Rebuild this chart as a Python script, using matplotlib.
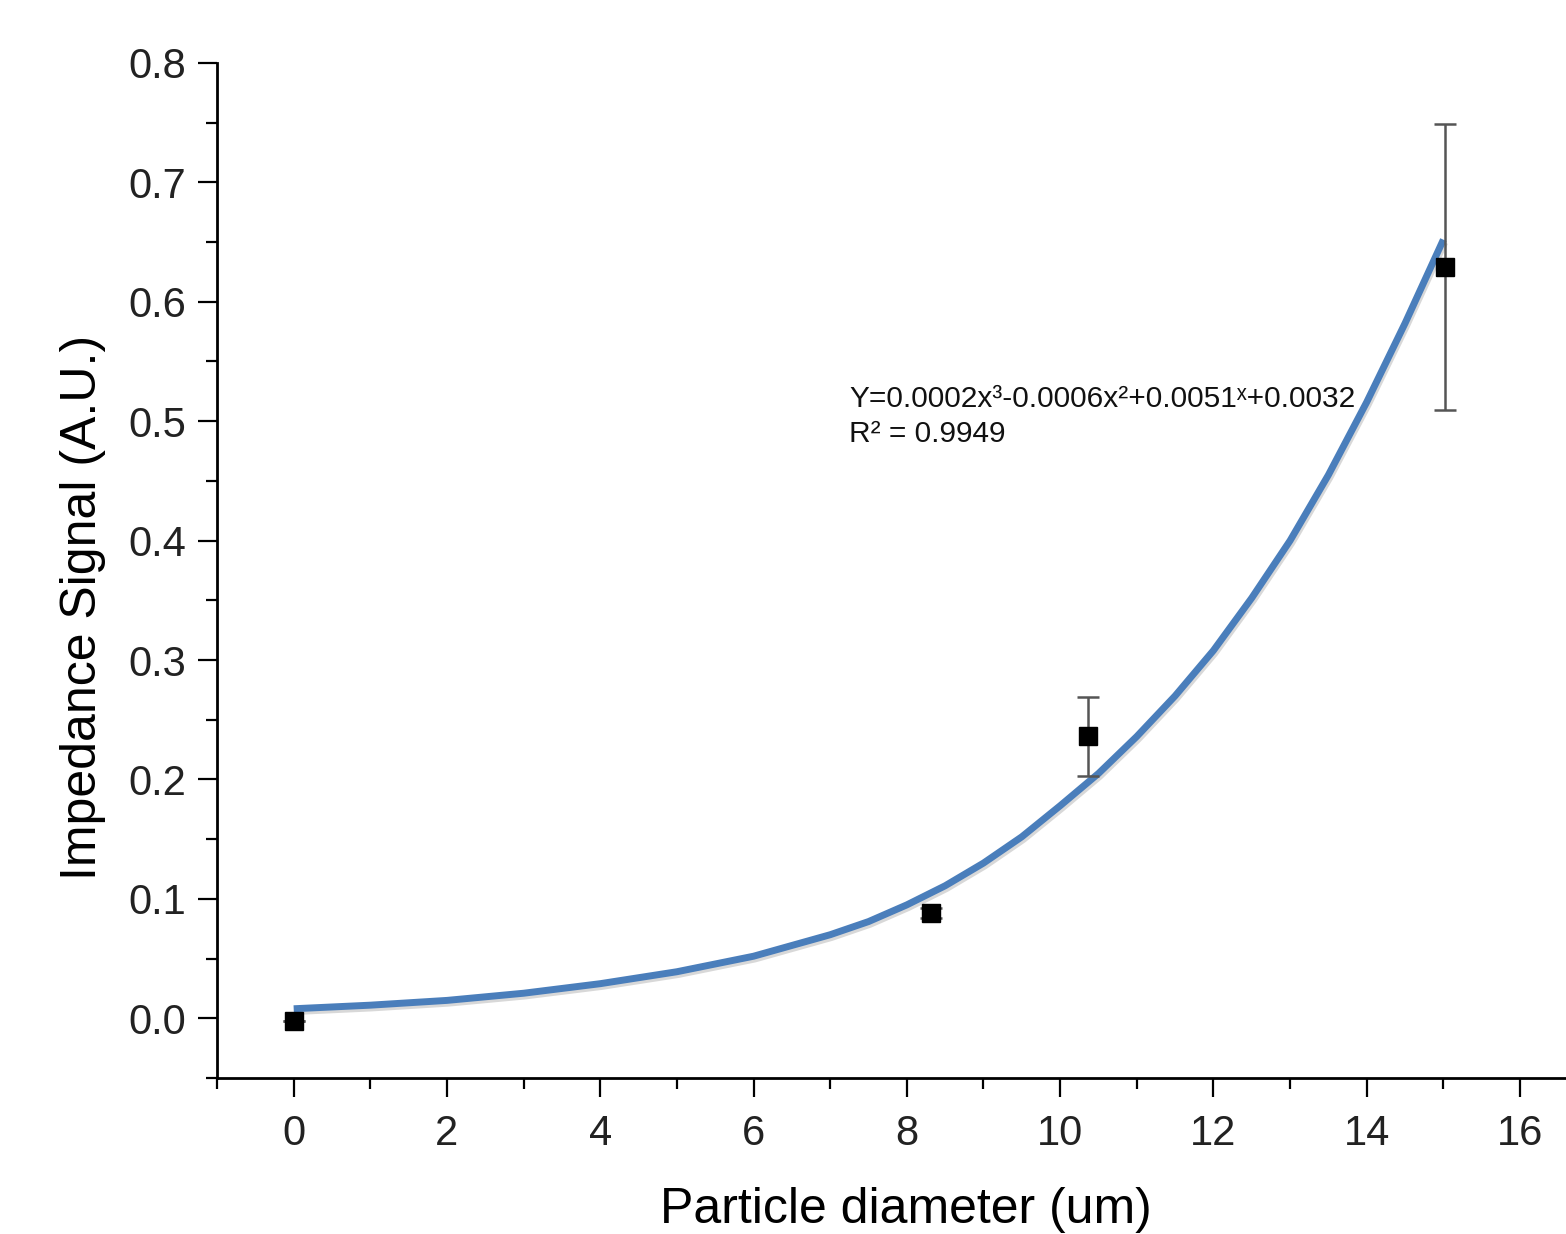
import matplotlib
matplotlib.use('Agg')
import matplotlib.pyplot as plt
import matplotlib.patheffects as pe
from matplotlib.ticker import MultipleLocator

plt.rcParams['font.family'] = ['Liberation Sans', 'DejaVu Sans']

# measured points
diameter = [0.0, 8.32, 10.36, 15.02]
signal = [-0.002, 0.088, 0.236, 0.629]
signal_err = [0.0, 0.004, 0.033, 0.12]

# fitted curve
fit_x = [0, 1, 2, 3, 4, 5, 6, 7, 7.5, 8, 8.5, 9, 9.5, 10, 10.5, 11, 11.5,
         12, 12.5, 13, 13.5, 14, 14.5, 15]
fit_y = [0.008, 0.011, 0.015, 0.021, 0.029, 0.039, 0.052, 0.070, 0.081,
         0.095, 0.111, 0.130, 0.152, 0.178, 0.205, 0.236, 0.270, 0.308,
         0.352, 0.400, 0.455, 0.516, 0.582, 0.652]

fit_text = "Y=0.0002x³-0.0006x²+0.0051ˣ+0.0032\nR² = 0.9949"

fig = plt.figure(figsize=(15.66, 12.34), dpi=100)
ax = fig.add_axes([0.1386, 0.1264, 0.8614, 0.8226])

ax.plot(fit_x, fit_y, color='#4a7ebb', lw=5, solid_capstyle='butt',
        solid_joinstyle='round', zorder=2,
        path_effects=[pe.SimpleLineShadow(offset=(1, -2), shadow_color='gray', alpha=0.3),
                      pe.Normal()])
ax.errorbar(diameter, signal, yerr=signal_err, fmt='s', color='black', ms=13.5,
            ecolor='#555555', elinewidth=1.8, capsize=8, capthick=1.8, zorder=3)

ax.text(7.25, 0.530, fit_text, fontsize=21.5, va='top', ha='left', color='#111111',
        linespacing=1.3)

ax.set_xlim(-1, 16.6)
ax.set_ylim(-0.05, 0.8)
ax.xaxis.set_major_locator(MultipleLocator(2))
ax.xaxis.set_minor_locator(MultipleLocator(1))
ax.yaxis.set_major_locator(MultipleLocator(0.1))
ax.yaxis.set_minor_locator(MultipleLocator(0.05))
ax.yaxis.set_major_formatter(plt.FormatStrFormatter('%.1f'))

for s in ['top', 'right']:
    ax.spines[s].set_visible(False)
for s in ['left', 'bottom']:
    ax.spines[s].set_linewidth(2)

ax.tick_params(which='major', length=14, width=1.6, labelsize=30, pad=8,
               labelcolor='#222222')
ax.tick_params(axis='x', which='major', pad=12)
ax.tick_params(which='minor', length=8, width=1.6)

ax.set_xlabel('Particle diameter (um)', fontsize=36, labelpad=24)
ax.set_ylabel('Impedance Signal (A.U.)', fontsize=36, labelpad=16)
ax.xaxis.label.set_x(0.511)
ax.yaxis.label.set_y(0.464)

fig.savefig('out.png', dpi=100)
